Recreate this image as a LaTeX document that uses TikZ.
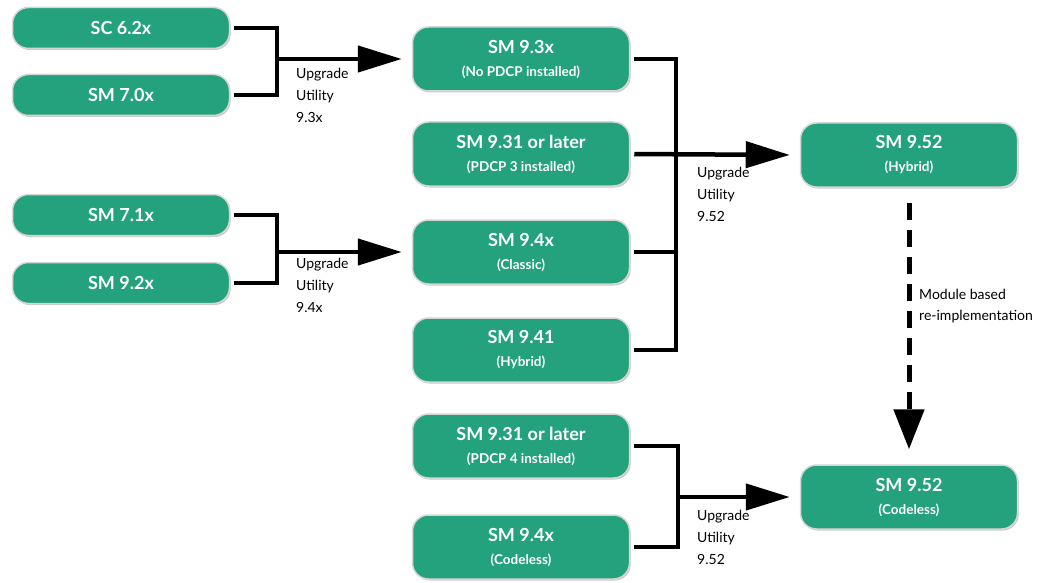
\documentclass[tikz,border=0pt]{standalone}
\usepackage{fontspec}
\setmainfont{Lato}
\usetikzlibrary{arrows.meta,shadows}

\definecolor{boxgreen}{HTML}{23A27D}
\definecolor{boxrim}{HTML}{D6D6D6}

\newcommand{\subline}[1]{\\[3pt]{\fontsize{13.5}{15}\selectfont #1}}

\begin{document}
\begin{tikzpicture}[x=1pt,y=-1pt,
    box/.style={draw=boxrim,line width=1.5pt,fill=boxgreen,rounded corners=16pt,
      text=white,font=\fontsize{18}{20}\selectfont\bfseries,align=center,
      minimum width=217pt,inner sep=2pt,
      drop shadow={shadow xshift=1.2pt,shadow yshift=-1.5pt,opacity=.35,fill=black!60}},
    flat/.style={box,minimum height=41pt},
    tall/.style={box,minimum height=64pt},
    conn/.style={line width=4.5pt,shorten <=4pt},
    arr/.style={line width=4.5pt,-{Triangle[length=44pt,width=26pt]},shorten >=10pt},
    dasharr/.style={line width=5pt,dash pattern=on 17pt off 10pt,
      -{Triangle[length=40pt,width=30pt]},shorten <=15pt,shorten >=15pt},
    lab/.style={anchor=north west,inner sep=0pt,align=left,
      font=\fontsize{14}{22}\selectfont}]
  \useasboundingbox (0,0) rectangle (1052,583);

  % old versions
  \node[flat] (sc62) at (121,28) {SC 6.2x};
  \node[flat] (sm70) at (121,95) {SM 7.0x};
  \node[flat] (sm71) at (121,215) {SM 7.1x};
  \node[flat] (sm92) at (121,283) {SM 9.2x};

  % middle column
  \node[tall] (sm93) at (521,59) {SM 9.3x\subline{(No PDCP installed)}};
  \node[tall] (sm931) at (521,154) {SM 9.31 or later\subline{(PDCP 3 installed)}};
  \node[tall] (sm94) at (521,252) {SM 9.4x\subline{(Classic)}};
  \node[tall] (sm941) at (521,350) {SM 9.41\subline{(Hybrid)}};
  \node[tall] (sm931b) at (521,446) {SM 9.31 or later\subline{(PDCP 4 installed)}};
  \node[tall] (sm94c) at (521,547) {SM 9.4x\subline{(Codeless)}};

  % targets
  \node[tall] (sm952h) at (909,155) {SM 9.52\subline{(Hybrid)}};
  \node[tall] (sm952c) at (909,497) {SM 9.52\subline{(Codeless)}};

  \coordinate (bus93) at (277,59);
  \coordinate (bus94) at (277,252);
  \coordinate (bus952) at (676,154);
  \coordinate (busc) at (678,497);

  \draw[conn] (sc62.east) -| (bus93);
  \draw[conn] (sm70.east) -| (bus93);
  \draw[arr] (bus93) -- (sm93.west);
  \node[lab] (u93) at (296,68) {Upgrade\\Utility\\9.3x};

  \draw[conn] (sm71.east) -| (bus94);
  \draw[conn] (sm92.east) -| (bus94);
  \draw[arr] (bus94) -- (sm94.west);
  \node[lab] (u94) at (296,258) {Upgrade\\Utility\\9.4x};

  \draw[conn] (sm93.east) -| (bus952);
  \draw[conn] (sm94.east) -| (bus952);
  \draw[conn] (sm941.east) -| (bus952);
  \draw[arr,shorten <=4pt] (sm931.east) -- (sm952h.west);
  \node[lab] (u952) at (697,167) {Upgrade\\Utility\\9.52};

  \draw[conn] (sm931b.east) -| (busc);
  \draw[conn] (sm94c.east) -| (busc);
  \draw[arr] (busc) -- (sm952c.west);
  \node[lab] (u952c) at (697,510) {Upgrade\\Utility\\9.52};

  \draw[dasharr] (sm952h.south) -- (sm952c.north);
  \node[lab,font=\fontsize{14}{21}\selectfont] (mod) at (919,289) {Module based\\re-implementation};
\end{tikzpicture}
\end{document}
